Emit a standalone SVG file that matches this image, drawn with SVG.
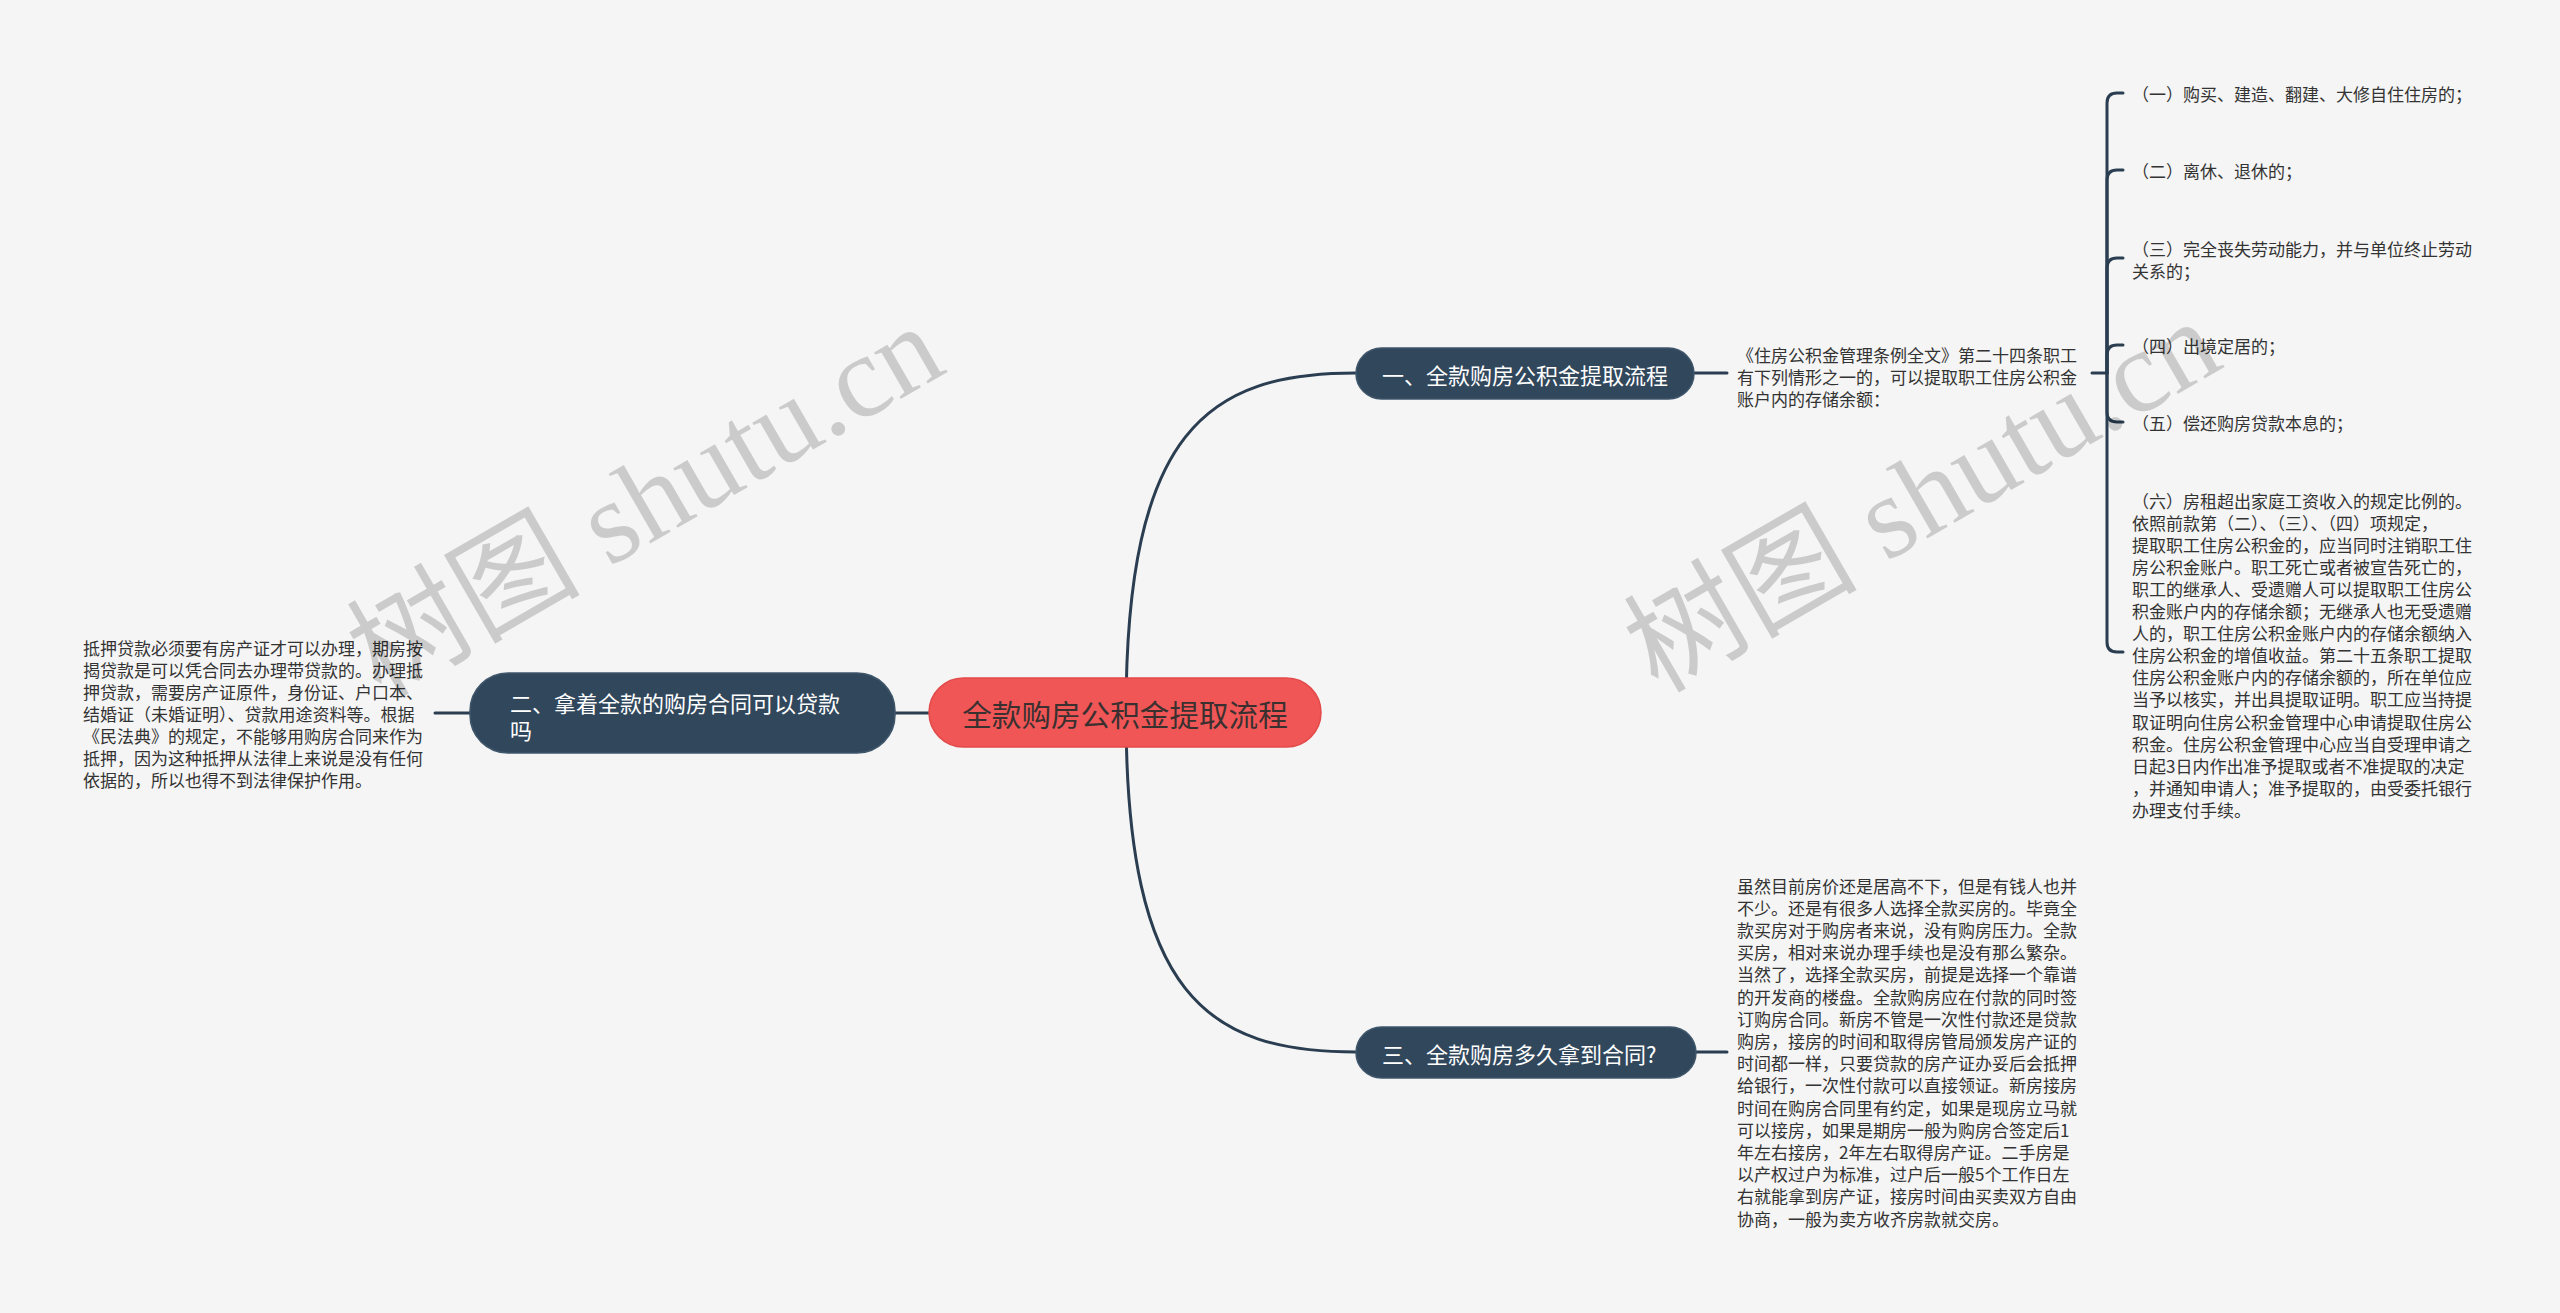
<svg xmlns="http://www.w3.org/2000/svg" width="2560" height="1313" viewBox="0 0 2560 1313">
<style>
.bg{fill:#f5f5f5}
.conn{fill:none;stroke:#2b3e51;stroke-width:3;stroke-linecap:round}
.dark{fill:#31475c;stroke:#3f566b;stroke-width:1.5}
.root{fill:#f05656;stroke:#e34a4a;stroke-width:1.5}
.nt{font-family:"Noto Sans CJK SC","Liberation Sans",sans-serif;font-size:22px;fill:#ffffff;dominant-baseline:central}
.rt{font-family:"Noto Sans CJK SC","Liberation Sans",sans-serif;font-size:29.6px;fill:#3a3030;dominant-baseline:central;text-anchor:middle}
.lt{font-family:"Noto Sans CJK SC","Liberation Sans",sans-serif;font-size:17px;fill:#333333;dominant-baseline:central}
.wm{font-family:"Liberation Serif","Noto Sans CJK SC",serif;font-size:117px;fill:#000000;fill-opacity:0.17;text-anchor:middle}
</style>
<rect class="bg" x="0" y="0" width="2560" height="1313"/>

<g id="connectors">
  <path class="conn" d="M1126,713 C1126,430 1208,373 1356,373"/>
  <path class="conn" d="M1126,713 C1126,996 1208,1052 1356,1052"/>
  <path class="conn" d="M929,713 H895"/>
  <path class="conn" d="M470,713 H435"/>
  <path class="conn" d="M1694,373 H1727"/>
  <path class="conn" d="M1696,1052 H1727"/>
  <path class="conn" d="M2092,373 H2107"/>
  <path class="conn" d="M2107,373 V103 Q2107,93 2117,93 H2123"/>
  <path class="conn" d="M2107,373 V180 Q2107,170 2117,170 H2123"/>
  <path class="conn" d="M2107,373 V268 Q2107,258 2117,258 H2123"/>
  <path class="conn" d="M2107,373 V355 Q2107,345 2117,345 H2123"/>
  <path class="conn" d="M2107,373 V412 Q2107,422 2117,422 H2123"/>
  <path class="conn" d="M2107,373 V642 Q2107,652 2117,652 H2123"/>
</g>

<g id="root">
  <rect class="root" x="929" y="678" width="392" height="69" rx="34.5"/>
  <text class="rt" x="1125" y="713">全款购房公积金提取流程</text>
</g>

<g id="node-1">
  <rect class="dark" x="1356" y="348" width="338" height="51" rx="25.5"/>
  <text class="nt" x="1382" y="374">一、全款购房公积金提取流程</text>
</g>

<g id="node-2">
  <rect class="dark" x="470" y="673" width="425" height="80" rx="38"/>
  <text class="nt" x="510" y="702">二、拿着全款的购房合同可以贷款</text>
  <text class="nt" x="510" y="729">吗</text>
</g>

<g id="node-3">
  <rect class="dark" x="1356" y="1027" width="340" height="51" rx="25.5"/>
  <text class="nt" x="1382" y="1053">三、全款购房多久拿到合同?</text>
</g>

<g id="leaf-1">
  <text class="lt" x="1737" y="354">《住房公积金管理条例全文》第二十四条职工</text>
  <text class="lt" x="1737" y="376">有下列情形之一的，可以提取职工住房公积金</text>
  <text class="lt" x="1737" y="398">账户内的存储余额：</text>
</g>

<g id="leaf-1-1">
  <text class="lt" x="2132" y="93">（一）购买、建造、翻建、大修自住住房的；</text>
</g>
<g id="leaf-1-2">
  <text class="lt" x="2132" y="170">（二）离休、退休的；</text>
</g>
<g id="leaf-1-3">
  <text class="lt" x="2132" y="248">（三）完全丧失劳动能力，并与单位终止劳动</text>
  <text class="lt" x="2132" y="270">关系的；</text>
</g>
<g id="leaf-1-4">
  <text class="lt" x="2132" y="345">（四）出境定居的；</text>
</g>
<g id="leaf-1-5">
  <text class="lt" x="2132" y="422">（五）偿还购房贷款本息的；</text>
</g>
<g id="leaf-1-6">
  <text class="lt" x="2132" y="500">（六）房租超出家庭工资收入的规定比例的。</text>
  <text class="lt" x="2132" y="522.1">依照前款第（二）、（三）、（四）项规定，</text>
  <text class="lt" x="2132" y="544.2">提取职工住房公积金的，应当同时注销职工住</text>
  <text class="lt" x="2132" y="566.3">房公积金账户。职工死亡或者被宣告死亡的，</text>
  <text class="lt" x="2132" y="588.4">职工的继承人、受遗赠人可以提取职工住房公</text>
  <text class="lt" x="2132" y="610.5">积金账户内的存储余额；无继承人也无受遗赠</text>
  <text class="lt" x="2132" y="632.6">人的，职工住房公积金账户内的存储余额纳入</text>
  <text class="lt" x="2132" y="654.7">住房公积金的增值收益。第二十五条职工提取</text>
  <text class="lt" x="2132" y="676.8">住房公积金账户内的存储余额的，所在单位应</text>
  <text class="lt" x="2132" y="698.9">当予以核实，并出具提取证明。职工应当持提</text>
  <text class="lt" x="2132" y="721">取证明向住房公积金管理中心申请提取住房公</text>
  <text class="lt" x="2132" y="743.1">积金。住房公积金管理中心应当自受理申请之</text>
  <text class="lt" x="2132" y="765.2">日起3日内作出准予提取或者不准提取的决定</text>
  <text class="lt" x="2132" y="787.3">，并通知申请人；准予提取的，由受委托银行</text>
  <text class="lt" x="2132" y="809.4">办理支付手续。</text>
</g>

<g id="leaf-2">
  <text class="lt" x="83" y="647">抵押贷款必须要有房产证才可以办理，期房按</text>
  <text class="lt" x="83" y="669">揭贷款是可以凭合同去办理带贷款的。办理抵</text>
  <text class="lt" x="83" y="691">押贷款，需要房产证原件，身份证、户口本、</text>
  <text class="lt" x="83" y="713">结婚证（未婚证明）、贷款用途资料等。根据</text>
  <text class="lt" x="83" y="735">《民法典》的规定，不能够用购房合同来作为</text>
  <text class="lt" x="83" y="757">抵押，因为这种抵押从法律上来说是没有任何</text>
  <text class="lt" x="83" y="779">依据的，所以也得不到法律保护作用。</text>
</g>

<g id="leaf-3">
  <text class="lt" x="1737" y="885">虽然目前房价还是居高不下，但是有钱人也并</text>
  <text class="lt" x="1737" y="907.2">不少。还是有很多人选择全款买房的。毕竟全</text>
  <text class="lt" x="1737" y="929.4">款买房对于购房者来说，没有购房压力。全款</text>
  <text class="lt" x="1737" y="951.6">买房，相对来说办理手续也是没有那么繁杂。</text>
  <text class="lt" x="1737" y="973.8">当然了，选择全款买房，前提是选择一个靠谱</text>
  <text class="lt" x="1737" y="996">的开发商的楼盘。全款购房应在付款的同时签</text>
  <text class="lt" x="1737" y="1018.2">订购房合同。新房不管是一次性付款还是贷款</text>
  <text class="lt" x="1737" y="1040.4">购房，接房的时间和取得房管局颁发房产证的</text>
  <text class="lt" x="1737" y="1062.6">时间都一样，只要贷款的房产证办妥后会抵押</text>
  <text class="lt" x="1737" y="1084.8">给银行，一次性付款可以直接领证。新房接房</text>
  <text class="lt" x="1737" y="1107">时间在购房合同里有约定，如果是现房立马就</text>
  <text class="lt" x="1737" y="1129.2">可以接房，如果是期房一般为购房合签定后1</text>
  <text class="lt" x="1737" y="1151.4">年左右接房，2年左右取得房产证。二手房是</text>
  <text class="lt" x="1737" y="1173.6">以产权过户为标准，过户后一般5个工作日左</text>
  <text class="lt" x="1737" y="1195.8">右就能拿到房产证，接房时间由买卖双方自由</text>
  <text class="lt" x="1737" y="1218">协商，一般为卖方收齐房款就交房。</text>
</g>

<text class="wm" x="665" y="535" transform="rotate(-30 665 535)">树图 shutu.cn</text>
<text class="wm" x="1942" y="530" transform="rotate(-30 1942 530)">树图 shutu.cn</text>
</svg>
